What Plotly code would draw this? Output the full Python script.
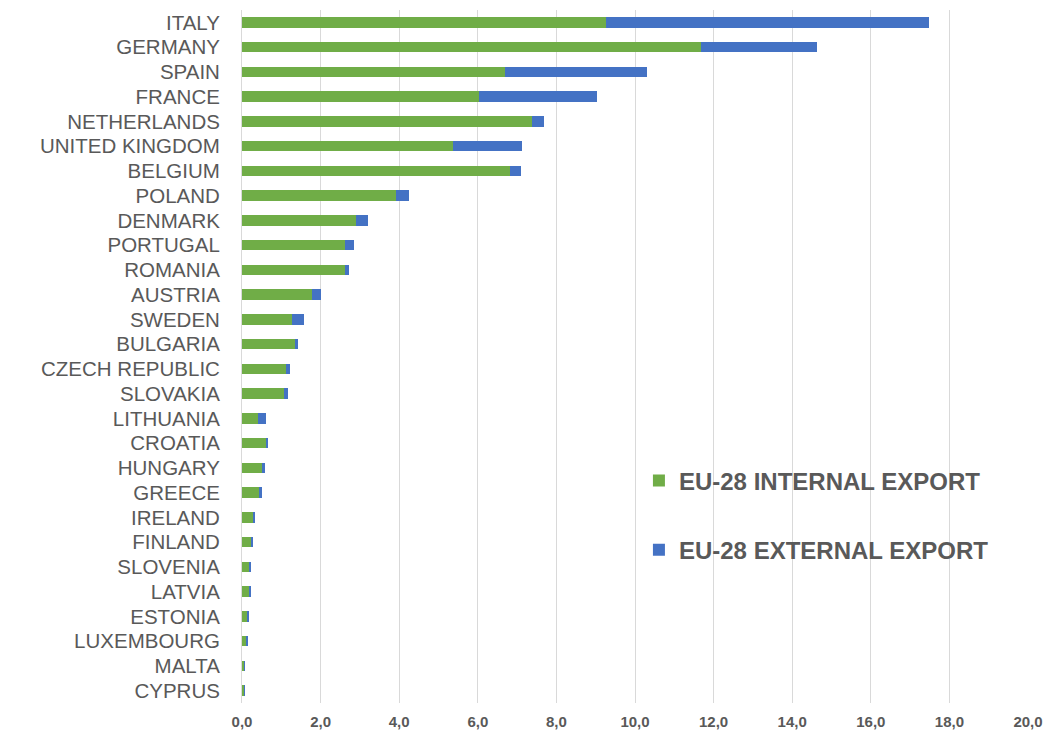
import plotly.graph_objects as go

countries = ["ITALY", "GERMANY", "SPAIN", "FRANCE", "NETHERLANDS", "UNITED KINGDOM",
             "BELGIUM", "POLAND", "DENMARK", "PORTUGAL", "ROMANIA", "AUSTRIA", "SWEDEN",
             "BULGARIA", "CZECH REPUBLIC", "SLOVAKIA", "LITHUANIA", "CROATIA", "HUNGARY",
             "GREECE", "IRELAND", "FINLAND", "SLOVENIA", "LATVIA", "ESTONIA", "LUXEMBOURG",
             "MALTA", "CYPRUS"]
internal = [9.25, 11.69, 6.70, 6.04, 7.37, 5.37, 6.81, 3.93, 2.89, 2.63, 2.61, 1.79, 1.26,
            1.36, 1.13, 1.06, 0.40, 0.60, 0.50, 0.45, 0.29, 0.22, 0.20, 0.20, 0.15, 0.12,
            0.06, 0.06]
external = [8.22, 2.95, 3.61, 3.00, 0.31, 1.76, 0.28, 0.32, 0.32, 0.22, 0.12, 0.21, 0.31,
            0.06, 0.09, 0.11, 0.22, 0.07, 0.08, 0.05, 0.05, 0.06, 0.02, 0.02, 0.02, 0.01,
            0.01, 0.01]
tick_vals = [0, 2, 4, 6, 8, 10, 12, 14, 16, 18, 20]
tick_text = ["0,0", "2,0", "4,0", "6,0", "8,0", "10,0", "12,0", "14,0", "16,0", "18,0", "20,0"]

fig = go.Figure()
fig.add_trace(go.Bar(y=countries, x=internal, orientation="h", name="EU-28 INTERNAL EXPORT",
                     legendgroup="a",
                     marker=dict(color="#70AD47", line=dict(width=0))))
fig.add_trace(go.Bar(y=countries, x=external, orientation="h", name="EU-28 EXTERNAL EXPORT",
                     legendgroup="b",
                     marker=dict(color="#4472C4", line=dict(width=0))))

fig.update_layout(
    barmode="stack",
    bargap=0.58,
    width=1052, height=742,
    margin=dict(l=234, r=32, t=2, b=47),
    plot_bgcolor="white", paper_bgcolor="white",
    font=dict(family="Liberation Sans, Arial, sans-serif", color="#595959"),
    xaxis=dict(range=[0, 20], tickvals=tick_vals, ticktext=tick_text, automargin=False,
               showgrid=True, gridcolor="#D9D9D9", gridwidth=1, zeroline=False,
               showline=False, ticks="", ticklabelstandoff=8,
               tickfont=dict(size=15, color="#595959", weight="bold")),
    yaxis=dict(categoryorder="array", categoryarray=countries[::-1], automargin=False,
               tickmode="array", tickvals=countries, ticktext=countries,
               showline=True, linecolor="#D9D9D9", linewidth=1, ticks="",
               ticklabelstandoff=17,
               tickfont=dict(size=20.5, color="#595959")),
    legend=dict(x=0.505, y=0.353, xanchor="left", yanchor="top",
                bgcolor="rgba(0,0,0,0)", traceorder="grouped",
                tracegroupgap=35, itemwidth=30,
                font=dict(size=24, color="#595959", weight="bold")),
    showlegend=True,
)

fig.write_html("out.html")
